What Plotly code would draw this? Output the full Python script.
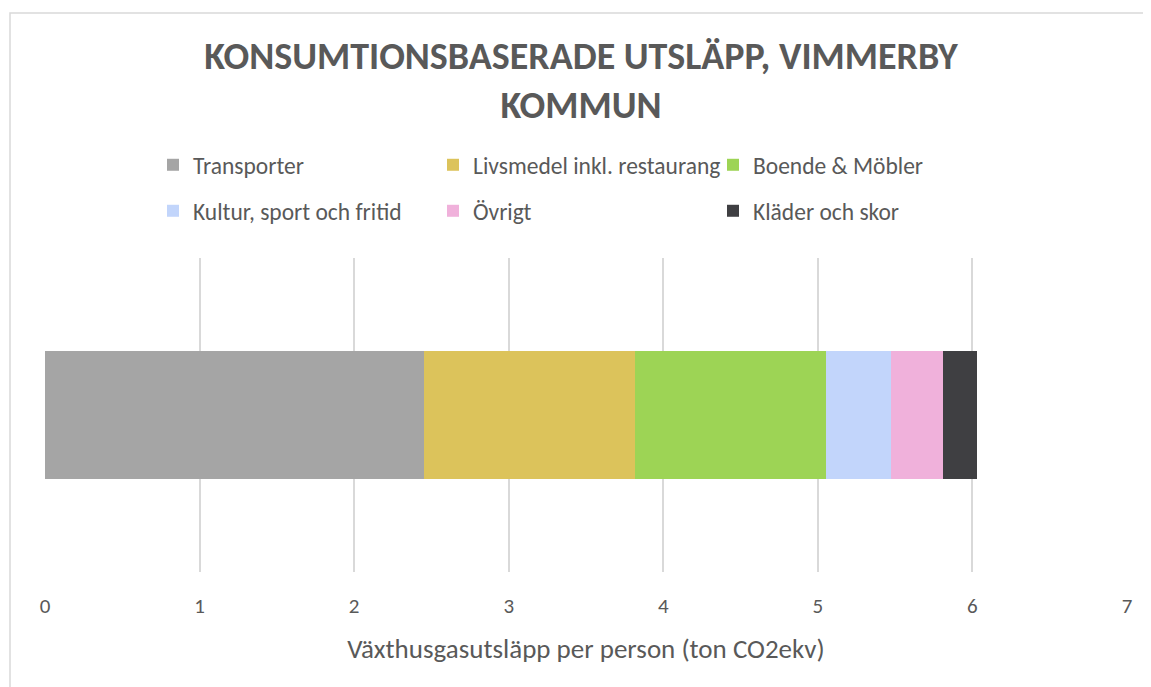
import plotly.graph_objects as go

categories = ["Transporter", "Livsmedel inkl. restaurang", "Boende & Möbler",
              "Kultur, sport och fritid", "Övrigt", "Kläder och skor"]
values = [2.45, 1.37, 1.23, 0.42, 0.34, 0.22]
colors = ["#A5A5A5", "#DCC35B", "#9DD455", "#C2D5FB", "#F0B1DB", "#3F3F42"]
x_ticks = [0, 1, 2, 3, 4, 5, 6, 7]
title_text = "KONSUMTIONSBASERADE UTSLÄPP, VIMMERBY<br>KOMMUN"
x_title = "Växthusgasutsläpp per person (ton CO2ekv)"

OFF = 8  # browser body margin
W, H = 1151 - OFF, 687 - OFF
L, R, T, B = 45 - OFF, 24, 258 - OFF, 115
PW, PH = W - L - R, H - T - B

def px(x):
    return (x - OFF - L) / PW

def py(y):
    return 1 - (y - OFF - T) / PH

FONT = "Carlito, Calibri, Open Sans, sans-serif"
GREY = "#595959"

# legend entries: (text start x, row center y) in screen pixels
leg_pos = [(192, 165), (472, 165), (752, 165), (192, 211), (472, 211), (752, 211)]

fig = go.Figure()
for i, (c, v, col) in enumerate(zip(categories, values, colors)):
    lname = "legend" if i == 0 else f"legend{i+1}"
    fig.add_trace(go.Bar(
        x=[v], y=[""], orientation="h", name=c,
        marker=dict(color=col, line=dict(width=0)),
        legend=lname, hoverinfo="x+name",
    ))

legends = {}
for i, (tx, ty) in enumerate(leg_pos):
    lname = "legend" if i == 0 else f"legend{i+1}"
    legends[lname] = dict(
        x=px(tx - 39), y=py(ty), xanchor="left", yanchor="middle",
        xref="paper", yref="paper",
        bgcolor="rgba(0,0,0,0)", borderwidth=0,
        font=dict(family=FONT, size=23.5, color=GREY),
        itemclick=False, itemdoubleclick=False,
    )

fig.update_layout(
    width=W, height=H,
    margin=dict(l=L, r=R, t=T, b=B, autoexpand=False),
    barmode="stack", bargap=0.592,
    paper_bgcolor="white", plot_bgcolor="white",
    title=dict(text=title_text, x=px(581), xanchor="center", xref="paper",
               y=1 - (69 - OFF) / H, yanchor="top", yref="container",
               font=dict(family=FONT, size=38, color=GREY, weight="bold")),
    showlegend=True,
    **legends,
    xaxis=dict(range=[0, 7], tickvals=x_ticks, showgrid=True, gridcolor="#D9D9D9",
               gridwidth=1.5, zeroline=False, showline=False, ticks="",
               tickfont=dict(family=FONT, size=21, color=GREY),
               ticklabelstandoff=19,
               title=dict(text=x_title, standoff=21,
                          font=dict(family=FONT, size=27, color=GREY))),
    yaxis=dict(showgrid=False, zeroline=False, showline=False, showticklabels=False),
    shapes=[dict(type="rect", xref="paper", yref="paper",
                 x0=px(10), x1=px(1148), y0=py(700), y1=py(13),
                 line=dict(color="#D9D9D9", width=1.5), fillcolor="rgba(0,0,0,0)",
                 layer="below")],
)

fig.write_html("out.html")
